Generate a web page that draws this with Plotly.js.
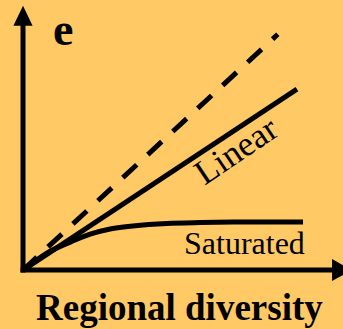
<!DOCTYPE html>
<html>
<head>
<meta charset="utf-8">
<script src="https://cdn.plot.ly/plotly-3.0.1.min.js"></script>
<style>
  html, body { margin: 0; padding: 0; background: #FFC966; }
  #chart { width: 343px; height: 329px; }
</style>
</head>
<body>
<div id="chart"></div>
<script>
// Local diversity against regional diversity (arbitrary units)
const linearX = [0, 10];
const linearY = [0, 6.6];

const oneToOneX = [0, 9.3];
const oneToOneY = [0, 8.6];

const saturatedX = [0, 0.44, 0.99, 1.82, 2.45, 3.18, 4.01, 5.26, 6.46, 7.66, 9.01, 10.22];
const saturatedY = [0, 0.33, 0.69, 1.06, 1.31, 1.50, 1.61, 1.70, 1.73, 1.75, 1.75, 1.75];

const W = 343, H = 329;
const ink = '#000000';
const bg = '#FFC966';

// axis ranges in data units (same scale on both axes)
const xRange = [-0.84, 11.68];
const yRange = [-2.15, 9.85];

// pixel helpers for the annotation placement
const px = x => x / W;
const py = y => 1 - y / H;

const traces = [
  {
    x: oneToOneX, y: oneToOneY, mode: 'lines',
    line: { color: ink, width: 5, dash: '19px,15px' },
    hoverinfo: 'skip'
  },
  {
    x: linearX, y: linearY, mode: 'lines',
    line: { color: ink, width: 5 },
    hoverinfo: 'skip'
  },
  {
    x: saturatedX, y: saturatedY, mode: 'lines',
    line: { color: ink, width: 5, shape: 'spline', smoothing: 0.8 },
    hoverinfo: 'skip'
  }
];

// axes with filled arrow heads
const yTop = 9.64, yHeadBase = 8.91, headHalf = 0.35;
const xTip = 12.0, xHeadBase = 11.28, xHeadHalf = 0.40;
const shapes = [
  { type: 'line', xref: 'x', yref: 'y', x0: 0, x1: 0, y0: -0.09, y1: yHeadBase + 0.05,
    line: { color: ink, width: 5 } },
  { type: 'line', xref: 'x', yref: 'y', x0: -0.09, x1: xHeadBase + 0.05, y0: 0, y1: 0,
    line: { color: ink, width: 5 } },
  { type: 'path', xref: 'x', yref: 'y',
    path: `M ${-headHalf} ${yHeadBase} L ${headHalf} ${yHeadBase} L 0 ${yTop} Z`,
    fillcolor: ink, line: { width: 0 } },
  { type: 'path', xref: 'x', yref: 'y',
    path: `M ${xHeadBase} ${-xHeadHalf} L ${xHeadBase} ${xHeadHalf} L ${xTip} 0 Z`,
    fillcolor: ink, line: { width: 0 } }
];

const serif = '"Liberation Serif", "Times New Roman", serif';
const annotations = [
  { text: '<b>e</b>', xref: 'paper', yref: 'paper', x: px(63), y: py(30),
    xanchor: 'center', yanchor: 'middle', showarrow: false,
    font: { family: serif, size: 46, color: ink } },
  { text: 'Linear', xref: 'paper', yref: 'paper', x: px(236), y: py(150),
    xanchor: 'center', yanchor: 'middle', showarrow: false, textangle: -34,
    font: { family: serif, size: 35, color: ink } },
  { text: 'Saturated', xref: 'paper', yref: 'paper', x: px(244), y: py(243),
    xanchor: 'center', yanchor: 'middle', showarrow: false,
    font: { family: serif, size: 32, color: ink } },
  { text: '<b>Regional diversity</b>', xref: 'paper', yref: 'paper', x: px(179), y: py(307),
    xanchor: 'center', yanchor: 'middle', showarrow: false,
    font: { family: serif, size: 37, color: ink } }
];

const layout = {
  width: W, height: H,
  margin: { l: 0, r: 0, t: 0, b: 0, pad: 0 },
  paper_bgcolor: bg, plot_bgcolor: bg,
  showlegend: false,
  xaxis: { range: xRange, visible: false, fixedrange: true },
  yaxis: { range: yRange, visible: false, fixedrange: true },
  shapes: shapes,
  annotations: annotations
};

Plotly.newPlot('chart', traces, layout, { staticPlot: true, displayModeBar: false });
</script>
</body>
</html>
